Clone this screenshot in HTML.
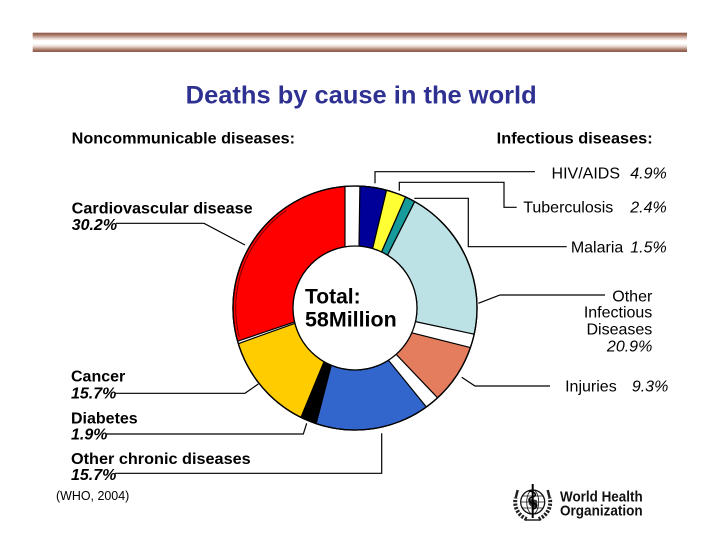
<!DOCTYPE html>
<html>
<head>
<meta charset="utf-8">
<style>
html,body{margin:0;padding:0;background:#fff;}
body{width:720px;height:556px;overflow:hidden;}
svg{display:block;}
text{font-family:"Liberation Sans",Arial,sans-serif;}
</style>
</head>
<body>
<svg width="720" height="556" viewBox="0 0 720 556" xmlns="http://www.w3.org/2000/svg">
  <defs>
    <linearGradient id="bar" x1="0" y1="0" x2="0" y2="1">
      <stop offset="0" stop-color="#8a5544"/>
      <stop offset="0.12" stop-color="#a77866"/>
      <stop offset="0.3" stop-color="#e6d3cb"/>
      <stop offset="0.42" stop-color="#ffffff"/>
      <stop offset="0.58" stop-color="#ffffff"/>
      <stop offset="0.72" stop-color="#e6d3cb"/>
      <stop offset="0.88" stop-color="#a77866"/>
      <stop offset="1" stop-color="#8a5544"/>
    </linearGradient>
  </defs>
  <rect x="0" y="0" width="720" height="556" fill="#fff"/>
  <!-- top bar -->
  <rect x="32.7" y="32.7" width="654.3" height="19.3" fill="url(#bar)"/>

  <!-- title -->
  <text x="185.7" y="103.3" font-size="25" font-weight="bold" fill="#2e3192" textLength="351" lengthAdjust="spacingAndGlyphs">Deaths by cause in the world</text>

  <!-- headers -->
  <text x="71.7" y="143.3" font-size="16" font-weight="bold" fill="#000" textLength="223.3" lengthAdjust="spacingAndGlyphs">Noncommunicable diseases:</text>
  <text x="496.7" y="143.3" font-size="16" font-weight="bold" fill="#000" textLength="156" lengthAdjust="spacingAndGlyphs">Infectious diseases:</text>

  <!-- donut ring -->
  <circle cx="355" cy="308" r="122" fill="#fff" stroke="#000" stroke-width="1.3"/>
  <g stroke="#000" stroke-width="1.2" stroke-linejoin="round">
    <!-- HIV -->
    <path d="M359.90 186.10 A122 122 0 0 1 386.58 190.16 L372.61 248.55 A62 62 0 0 0 359.00 246.13 Z" fill="#000099"/>
    <!-- TB -->
    <path d="M386.58 190.16 A122 122 0 0 1 405.59 196.98 L381.59 251.99 A62 62 0 0 0 372.61 248.55 Z" fill="#ffff33"/>
    <!-- Malaria -->
    <path d="M405.59 196.98 A122 122 0 0 1 414.70 201.61 L387.58 255.25 A62 62 0 0 0 381.59 251.99 Z" fill="#169a9a"/>
    <!-- Other infectious -->
    <path d="M414.70 201.61 A122 122 0 0 1 474.15 334.20 L415.48 321.63 A62 62 0 0 0 387.58 255.25 Z" fill="#bce2e6"/>
    <!-- Injuries -->
    <path d="M470.42 347.52 A122 122 0 0 1 437.58 397.80 L396.16 354.36 A62 62 0 0 0 411.81 332.82 Z" fill="#e47c5e"/>
    <!-- Other chronic -->
    <path d="M426.37 406.95 A122 122 0 0 1 316.09 423.63 L331.17 365.24 A62 62 0 0 0 388.40 360.23 Z" fill="#3366cc"/>
    <!-- Diabetes -->
    <path d="M316.09 423.63 A122 122 0 0 1 300.95 417.37 L324.00 361.69 A62 62 0 0 0 331.17 365.24 Z" fill="#000"/>
    <!-- Cancer -->
    <path d="M300.95 417.37 A122 122 0 0 1 238.33 343.67 L294.92 323.31 A62 62 0 0 0 324.00 361.69 Z" fill="#ffcc00"/>
    <!-- CVD -->
    <path d="M237.61 341.22 A122 122 0 0 1 345.00 186.41 L344.98 246.81 A62 62 0 0 0 294.59 321.95 Z" fill="#ff0000"/>
  </g>
  <!-- red double outline -->
  <path d="M239.24 336.86 A119.3 119.3 0 0 1 286.57 210.27" fill="none" stroke="#700" stroke-width="1"/>
  <circle cx="355" cy="308" r="122" fill="none" stroke="#000" stroke-width="1.3"/>
  <circle cx="355" cy="308" r="62" fill="#fff" stroke="#000" stroke-width="1.3"/>

  <!-- center text -->
  <text x="305" y="303.3" font-size="21" font-weight="bold" fill="#000">Total:</text>
  <text x="305" y="326.7" font-size="21" font-weight="bold" fill="#000" textLength="91.7" lengthAdjust="spacingAndGlyphs">58Million</text>

  <!-- leader lines -->
  <g fill="none" stroke="#000" stroke-width="1.2">
    <path d="M116 223.3 L204 223.3 L245 245"/>
    <path d="M115 393.3 L245 393.3 L258.3 384"/>
    <path d="M106.7 434 L303.3 434 L306.7 423.3"/>
    <path d="M115 473.3 L381.7 473.3 L381.7 433.3"/>
    <path d="M375 183.3 L375 171.7 L535 171.7"/>
    <path d="M399.3 190.7 L399.3 182.3 L504 182.3 L504 207.3 L516.7 207.3"/>
    <path d="M415 199 L415 198.3 L468.3 198.3 L468.3 246.7 L566.7 246.7"/>
    <path d="M605 295 L500 295 L478.3 303.3"/>
    <path d="M550 386 L475 386 L461.7 377.3"/>
  </g>

  <!-- left labels -->
  <g font-size="16" font-weight="bold" fill="#000">
    <text x="71.7" y="213.3" textLength="181" lengthAdjust="spacingAndGlyphs">Cardiovascular disease</text>
    <text x="71.7" y="230" font-style="italic">30.2%</text>
    <text x="71" y="381.7">Cancer</text>
    <text x="71" y="398.3" font-style="italic">15.7%</text>
    <text x="71" y="423.3">Diabetes</text>
    <text x="71" y="439.3" font-style="italic">1.9%</text>
    <text x="71" y="464" textLength="179.7" lengthAdjust="spacingAndGlyphs">Other chronic diseases</text>
    <text x="71" y="480" font-style="italic">15.7%</text>
  </g>

  <!-- right labels -->
  <g font-size="16" fill="#000">
    <text x="620" y="178.3" text-anchor="end">HIV/AIDS</text>
    <text x="666.7" y="178.3" text-anchor="end" font-style="italic">4.9%</text>
    <text x="613.3" y="212.3" text-anchor="end">Tuberculosis</text>
    <text x="666.7" y="212.3" text-anchor="end" font-style="italic">2.4%</text>
    <text x="623.3" y="252.3" text-anchor="end">Malaria</text>
    <text x="666.7" y="252.3" text-anchor="end" font-style="italic">1.5%</text>
    <text x="652.3" y="301.7" text-anchor="end">Other</text>
    <text x="652.3" y="317.7" text-anchor="end">Infectious</text>
    <text x="652.3" y="334.3" text-anchor="end">Diseases</text>
    <text x="652.3" y="351.7" text-anchor="end" font-style="italic">20.9%</text>
    <text x="616.7" y="391.7" text-anchor="end">Injuries</text>
    <text x="668.3" y="391.7" text-anchor="end" font-style="italic">9.3%</text>
  </g>

  <!-- source -->
  <text x="56" y="500" font-size="13" fill="#000" textLength="73.3" lengthAdjust="spacingAndGlyphs">(WHO, 2004)</text>

  <!-- WHO logo -->
  <g transform="translate(532.7,502)">
    <path d="M-6 17 A18 18 0 0 1 -17 -4" fill="none" stroke="#222" stroke-width="4" stroke-dasharray="2.2 1.4"/>
    <path d="M6 17 A18 18 0 0 0 17 -4" fill="none" stroke="#222" stroke-width="4" stroke-dasharray="2.2 1.4"/>
    <path d="M-17 -4 L-15 -12" stroke="#222" stroke-width="2.5"/>
    <path d="M17 -4 L15 -12" stroke="#222" stroke-width="2.5"/>
    <path d="M-8 18 L8 18" stroke="#222" stroke-width="1.5"/>
    <circle cx="0" cy="0" r="12" fill="#fff" stroke="#111" stroke-width="1.3"/>
    <ellipse cx="0" cy="0" rx="6" ry="12" fill="none" stroke="#111" stroke-width="0.8"/>
    <line x1="-12" y1="0" x2="12" y2="0" stroke="#111" stroke-width="0.8"/>
    <path d="M-10.4 -6 L10.4 -6 M-10.4 6 L10.4 6" stroke="#111" stroke-width="0.8"/>
    <path d="M-3 -3 L4 -2 L5 4 L0 6 L-4 2 Z" fill="#333"/>
    <line x1="0" y1="-18" x2="0" y2="16" stroke="#000" stroke-width="2"/>
    <path d="M-4 -11 C4 -10 4 -6 0 -5 C-5 -4 -5 0 0 1 C5 2 5 6 0 7" fill="none" stroke="#000" stroke-width="1.6"/>
  </g>
  <text x="560" y="501.7" font-size="15" font-weight="bold" fill="#111" textLength="82.7" lengthAdjust="spacingAndGlyphs">World Health</text>
  <text x="560" y="515.7" font-size="15" font-weight="bold" fill="#111" textLength="82.7" lengthAdjust="spacingAndGlyphs">Organization</text>
</svg>
</body>
</html>
